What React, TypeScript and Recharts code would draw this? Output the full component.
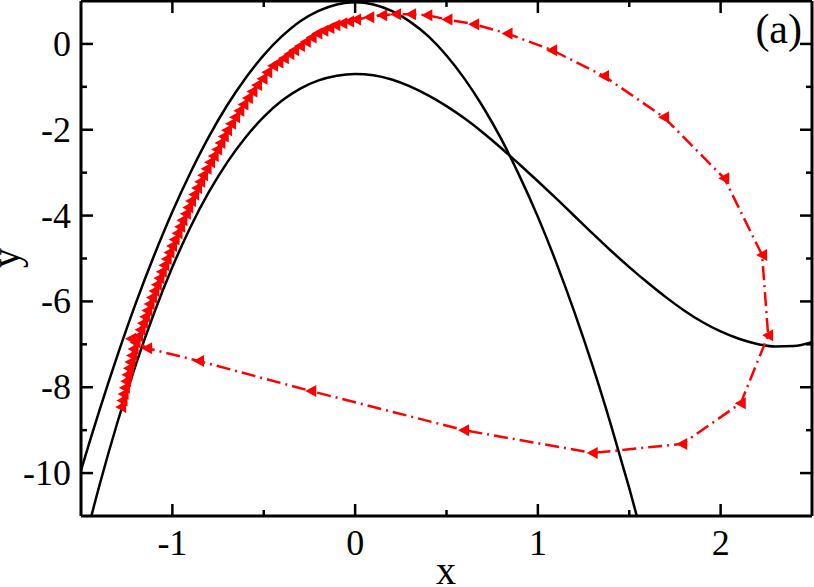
import { ComposedChart, Line, XAxis, YAxis } from "recharts";

const FONT = "Liberation Serif";
const RED = "#ff0000";

// upper nullcline (peak near y = 1)
const upperX = [
  -1.6, -1.5, -1.4, -1.3, -1.2, -1.1, -1.0, -0.9, -0.8, -0.7, -0.6, -0.5, -0.4, -0.3, -0.2, -0.1, 0,
  0.1, 0.2, 0.3, 0.4, 0.5, 0.6, 0.7, 0.8, 0.9, 1.0, 1.1, 1.2, 1.3, 1.4, 1.5, 1.6,
];
const upperY = [
  -11.43, -9.94, -8.55, -7.25, -6.04, -4.93, -3.91, -2.99, -2.16, -1.43, -0.8, -0.26, 0.18, 0.53, 0.77, 0.92, 0.97,
  0.92, 0.77, 0.52, 0.18, -0.27, -0.82, -1.47, -2.22, -3.08, -4.03, -5.09, -6.25, -7.51, -8.88, -10.35, -11.92,
];

// lower nullcline (peak near y = -0.7, minimum near x = 2.3)
const lowerX = [
  -1.5, -1.4, -1.3, -1.2, -1.1, -1.0, -0.9, -0.8, -0.7, -0.6, -0.5, -0.4, -0.3, -0.2, -0.1, 0,
  0.1, 0.2, 0.3, 0.4, 0.5, 0.6, 0.7, 0.8, 0.9, 1.0, 1.1, 1.2, 1.3, 1.4, 1.5, 1.6, 1.7, 1.8, 1.9, 2.0,
  2.1, 2.2, 2.3, 2.4, 2.5,
];
const lowerY = [
  -11.95, -10.3, -8.81, -7.47, -6.27, -5.2, -4.26, -3.45, -2.76, -2.18, -1.7, -1.32, -1.04, -0.85, -0.74, -0.7,
  -0.73, -0.83, -0.99, -1.2, -1.45, -1.74, -2.07, -2.43, -2.81, -3.2, -3.6, -4.01, -4.42, -4.82, -5.2, -5.56,
  -5.9, -6.21, -6.48, -6.7, -6.87, -6.99, -7.05, -7.04, -6.95,
];

// trajectory (red, triangles)
const orbitX = [
  -1.28, -1.273, -1.267, -1.26, -1.253, -1.246, -1.238, -1.23, -1.221, -1.212, -1.201, -1.188, -1.174, -1.161,
  -1.149, -1.137, -1.125, -1.112, -1.098, -1.085, -1.071, -1.058, -1.044, -1.031, -1.016, -1.002, -0.988, -0.972,
  -0.958, -0.945, -0.926, -0.913, -0.898, -0.881, -0.865, -0.848, -0.832, -0.813, -0.794, -0.774, -0.755, -0.737,
  -0.719, -0.701, -0.679, -0.657, -0.634, -0.611, -0.587, -0.562, -0.537, -0.507, -0.481, -0.449,
  -0.42, -0.39, -0.36, -0.334, -0.302, -0.27, -0.238, -0.207, -0.174, -0.141, -0.108, -0.07, -0.033, 0.005,
  0.077, 0.148, 0.224, 0.306, 0.395, 0.505, 0.651, 0.834, 1.078, 1.362, 1.69, 2.02, 2.227, 2.26, 2.11, 1.79,
  1.3, 0.596, -0.24, -0.854, -1.138, -1.226,
];
const orbitY = [
  -8.46, -8.31, -8.16, -8.01, -7.86, -7.71, -7.56, -7.41, -7.26, -7.11, -6.96, -6.81, -6.66, -6.51,
  -6.36, -6.21, -6.06, -5.91, -5.76, -5.61, -5.46, -5.31, -5.16, -5.01, -4.86, -4.71, -4.56, -4.41,
  -4.26, -4.11, -3.96, -3.81, -3.66, -3.51, -3.36, -3.21, -3.06, -2.91, -2.76, -2.61, -2.46, -2.31,
  -2.16, -2.01, -1.86, -1.71, -1.56, -1.41, -1.26, -1.11, -0.96, -0.81, -0.66, -0.51,
  -0.435, -0.334, -0.233, -0.146, -0.048, 0.05, 0.148, 0.243, 0.307, 0.372, 0.436, 0.48, 0.525, 0.57,
  0.623, 0.669, 0.693, 0.693, 0.669, 0.569, 0.46, 0.24, -0.146, -0.75, -1.71, -3.13, -4.92, -6.79, -8.37, -9.32,
  -9.53, -9.0, -8.09, -7.39, -7.09, -6.87,
];

const xTicks = [-1, -0.5, 0, 0.5, 1, 1.5, 2];
const yTicks = [-10, -9, -8, -7, -6, -5, -4, -3, -2, -1, 0];

const upper = upperX.map((x, i) => ({ x, y: upperY[i] }));
const lower = lowerX.map((x, i) => ({ x, y: lowerY[i] }));
const orbit = orbitX.map((x, i) => ({ x, y: orbitY[i] }));

const MAJOR = 12;
const MINOR = 6;
const LABEL_SIZE = 36;

function BottomTick({ x, y, payload }: any) {
  const major = Number.isInteger(payload.value);
  return (
    <g>
      <line x1={x} x2={x} y1={y} y2={y - (major ? MAJOR : MINOR)} stroke="#000" strokeWidth={2.5} />
      {major && (
        <text x={x} y={y + 39} textAnchor="middle" fontFamily={FONT} fontSize={LABEL_SIZE} fill="#000">
          {payload.value}
        </text>
      )}
    </g>
  );
}

function TopTick({ x, y, payload }: any) {
  const major = Number.isInteger(payload.value);
  return <line x1={x} x2={x} y1={y} y2={y + (major ? MAJOR : MINOR)} stroke="#000" strokeWidth={2.5} />;
}

function LeftTick({ x, y, payload }: any) {
  const major = payload.value % 2 === 0;
  return (
    <g>
      <line x1={x} x2={x + (major ? MAJOR : MINOR)} y1={y} y2={y} stroke="#000" strokeWidth={2.5} />
      {major && (
        <text x={x - 10} y={y + 12} textAnchor="end" fontFamily={FONT} fontSize={LABEL_SIZE} fill="#000">
          {payload.value}
        </text>
      )}
    </g>
  );
}

function RightTick({ x, y, payload }: any) {
  const major = payload.value % 2 === 0;
  return <line x1={x} x2={x - (major ? MAJOR : MINOR)} y1={y} y2={y} stroke="#000" strokeWidth={2.5} />;
}

function LeftTriangle({ cx, cy }: any) {
  if (cx == null || cy == null) return <g />;
  return <path d={`M${cx - 6},${cy} L${cx + 5},${cy - 6} L${cx + 5},${cy + 6} Z`} fill={RED} />;
}

const frame = { stroke: "#000", strokeWidth: 3 };

export default function App() {
  return (
    <div style={{ position: "absolute", left: 0, top: 0, width: 814, height: 587, background: "#fff" }}>
      <ComposedChart width={814} height={587} margin={{ top: 0, right: 0, bottom: 0, left: 0 }}>
        <XAxis
          dataKey="x"
          type="number"
          domain={[-1.5, 2.5]}
          ticks={xTicks}
          interval={0}
          height={71}
          allowDataOverflow
          tickSize={0}
          tickMargin={0}
          tickLine={false}
          axisLine={frame}
          tick={<BottomTick />}
        />
        <XAxis
          xAxisId="top"
          orientation="top"
          dataKey="x"
          type="number"
          domain={[-1.5, 2.5]}
          ticks={xTicks}
          interval={0}
          height={1}
          allowDataOverflow
          tickSize={0}
          tickMargin={0}
          tickLine={false}
          axisLine={frame}
          tick={<TopTick />}
        />
        <YAxis
          type="number"
          domain={[-11, 1]}
          ticks={yTicks}
          interval={0}
          width={81}
          allowDataOverflow
          tickSize={0}
          tickMargin={0}
          tickLine={false}
          axisLine={frame}
          tick={<LeftTick />}
        />
        <YAxis
          yAxisId="right"
          orientation="right"
          type="number"
          domain={[-11, 1]}
          ticks={yTicks}
          interval={0}
          width={2}
          allowDataOverflow
          tickSize={0}
          tickMargin={0}
          tickLine={false}
          axisLine={frame}
          tick={<RightTick />}
        />
        <Line
          data={upper}
          dataKey="y"
          type="monotone"
          stroke="#000"
          strokeWidth={2.5}
          dot={false}
          isAnimationActive={false}
        />
        <Line
          data={lower}
          dataKey="y"
          type="monotone"
          stroke="#000"
          strokeWidth={2.5}
          dot={false}
          isAnimationActive={false}
        />
        <Line
          data={orbit}
          dataKey="y"
          type="linear"
          stroke={RED}
          strokeWidth={2.5}
          strokeDasharray="14 5 2 5"
          dot={(p: any) => <LeftTriangle key={`t-${p.index}`} cx={p.cx} cy={p.cy} />}
          isAnimationActive={false}
        />
      </ComposedChart>
      <svg width={814} height={587} style={{ position: "absolute", left: 0, top: 0, pointerEvents: "none" }}>
        <text x={446} y={584} textAnchor="middle" fontFamily={FONT} fontSize={40} fill="#000">
          x
        </text>
        <text transform="translate(19,258) rotate(-90)" textAnchor="middle" fontFamily={FONT} fontSize={40} fill="#000">
          y
        </text>
        <text x={802} y={43} textAnchor="end" fontFamily={FONT} fontSize={42} fill="#000">
          (a)
        </text>
      </svg>
    </div>
  );
}
